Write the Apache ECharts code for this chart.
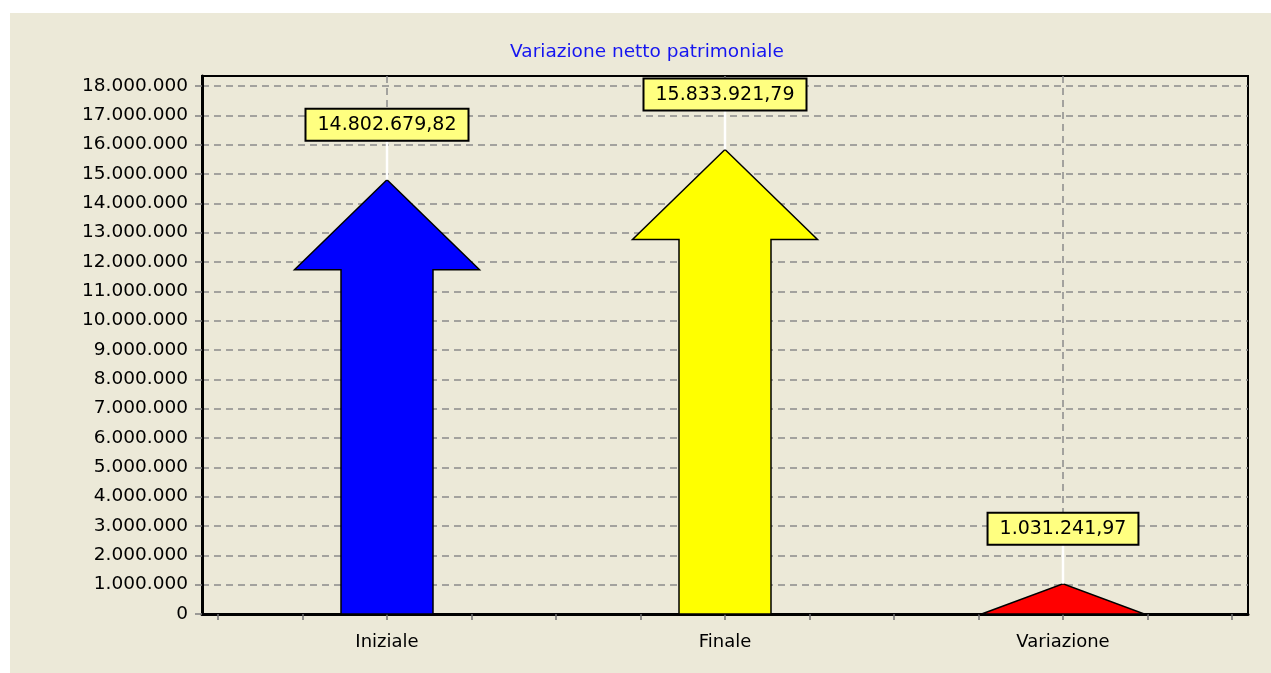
<!DOCTYPE html>
<html>
<head>
<meta charset="utf-8">
<title>Variazione netto patrimoniale</title>
<script src="https://cdn.jsdelivr.net/npm/echarts@6/dist/echarts.min.js"></script>
<style>
  html, body { margin: 0; padding: 0; background: #ffffff; }
  #wrap { position: relative; width: 1271px; height: 673px; overflow: hidden; background: #ffffff; }
  #panel { position: absolute; left: 10px; top: 13px; width: 1261px; height: 660px; background: #ECE9D8; }
  #chart { position: absolute; left: 0; top: 0; width: 1271px; height: 673px; }
</style>
</head>
<body>
<div id="wrap">
  <div id="panel"></div>
  <div id="chart"></div>
</div>
<script>
// Chart data
const categories = ['Iniziale', 'Finale', 'Variazione'];
const values = [14802679.82, 15833921.79, 1031241.97];
const arrowColors = ['#0000FF', '#FFFF00', '#FF0000'];
const yMin = 0;
const yTop = 18000000;     // last labelled tick
const yMax = 18340000;     // top edge of the plot frame
const yStep = 1000000;

// Italian number format: thousands with '.', decimals with ','
function fmtIt(v, dec) {
  const s = Number(v).toFixed(dec);
  const parts = s.split('.');
  const g = parts[0].replace(/\B(?=(\d{3})+(?!\d))/g, '.');
  return parts.length > 1 ? g + ',' + parts[1] : g;
}

const FONT = 'DejaVu Sans';
const GRID_COLOR = '#8a8a8a';

// Arrow geometry in pixels
const SHAFT_HALF = 46;
const HEAD_HALF = 92.5;
const HEAD_H = 90;
const LABEL_GAP = 40;

function renderArrow(params, api) {
  const idx = api.value(0);
  const val = api.value(1);
  const base = api.coord([idx, 0]);
  const tip = api.coord([idx, val]);
  const x = tip[0], y0 = base[1], yt = tip[1];
  const cs = params.coordSys;
  const h = y0 - yt;

  let pts;
  if (h > HEAD_H) {
    const yb = yt + HEAD_H;
    pts = [[x - SHAFT_HALF, y0], [x - SHAFT_HALF, yb], [x - HEAD_HALF, yb], [x, yt],
           [x + HEAD_HALF, yb], [x + SHAFT_HALF, yb], [x + SHAFT_HALF, y0]];
  } else {
    const hw = HEAD_HALF * 0.88;
    pts = [[x - hw, y0], [x, yt], [x + hw, y0]];
  }

  return {
    type: 'group',
    children: [
      {
        type: 'line',
        shape: { x1: x, y1: cs.y, x2: x, y2: cs.y + cs.height },
        style: { stroke: GRID_COLOR, lineWidth: 1.5, lineDash: [7, 5] }
      },
      {
        type: 'polygon',
        shape: { points: pts },
        style: { fill: arrowColors[idx], stroke: '#000000', lineWidth: 1.5 }
      },
      {
        type: 'line',
        shape: { x1: x, y1: yt - LABEL_GAP, x2: x, y2: yt },
        style: { stroke: '#ffffff', lineWidth: 2.5 }
      },
      {
        type: 'text',
        x: x,
        y: yt - LABEL_GAP,
        style: {
          text: fmtIt(val, 2),
          align: 'center',
          verticalAlign: 'bottom',
          fontFamily: FONT,
          fontSize: 19,
          lineHeight: 21,
          fill: '#000000',
          backgroundColor: '#FFFF80',
          borderColor: '#000000',
          borderWidth: 2,
          padding: [5, 11, 4, 11]
        }
      }
    ]
  };
}

const chart = echarts.init(document.getElementById('chart'), null, { renderer: 'canvas' });

chart.setOption({
  backgroundColor: 'transparent',
  animation: false,
  graphic: [
    {
      type: 'text',
      x: 647,
      y: 52,
      style: {
        text: 'Variazione netto patrimoniale',
        align: 'center',
        verticalAlign: 'middle',
        fontFamily: FONT,
        fontSize: 18.5,
        fill: '#1515F0'
      }
    }
  ],
  grid: [
    // labelled value grid (gridlines up to the last tick)
    { left: 202, right: 23, top: 86, bottom: 59 },
    // plot frame
    { left: 202, right: 23, top: 76, bottom: 59, show: true, borderColor: '#000000', borderWidth: 2, backgroundColor: 'transparent' },
    // arrows and category axis
    { left: 218, right: 39, top: 76, bottom: 59 }
  ],
  xAxis: [
    { gridIndex: 0, type: 'value', min: 0, max: 1, show: false },
    {
      gridIndex: 1, type: 'value', min: 0, max: 1,
      axisLine: { show: true, lineStyle: { color: '#000000', width: 3 } },
      axisTick: { show: false }, axisLabel: { show: false }, splitLine: { show: false }
    },
    {
      gridIndex: 2, type: 'value', min: -0.5, max: 2.5, interval: 0.25,
      axisLine: { show: false },
      axisTick: { show: true, length: 6, lineStyle: { color: '#707070', width: 1.5 } },
      axisLabel: {
        show: true,
        margin: 19,
        fontFamily: FONT,
        fontSize: 18,
        color: '#000000',
        formatter: function (v) {
          return Number.isInteger(v) && v >= 0 && v < categories.length ? categories[v] : '';
        }
      },
      splitLine: { show: false }
    }
  ],
  yAxis: [
    {
      gridIndex: 0, type: 'value', min: yMin, max: yTop, interval: yStep,
      axisLine: { show: false },
      axisTick: { show: true, length: 7, lineStyle: { color: '#808080', width: 1.5 } },
      axisLabel: {
        show: true,
        margin: 14,
        fontFamily: FONT,
        fontSize: 18.5,
        color: '#000000',
        formatter: function (v) { return fmtIt(v, 0); }
      },
      splitLine: { show: true, lineStyle: { color: GRID_COLOR, width: 1.5, type: [7, 5] } }
    },
    {
      gridIndex: 1, type: 'value', min: 0, max: 1,
      axisLine: { show: true, lineStyle: { color: '#000000', width: 3 } },
      axisTick: { show: false }, axisLabel: { show: false }, splitLine: { show: false }
    },
    {
      gridIndex: 2, type: 'value', min: yMin, max: yMax, show: false
    }
  ],
  series: [
    {
      type: 'custom',
      xAxisIndex: 2,
      yAxisIndex: 2,
      clip: false,
      renderItem: renderArrow,
      encode: { x: 0, y: 1 },
      data: values.map(function (v, i) { return [i, v]; })
    }
  ]
});
</script>
</body>
</html>
